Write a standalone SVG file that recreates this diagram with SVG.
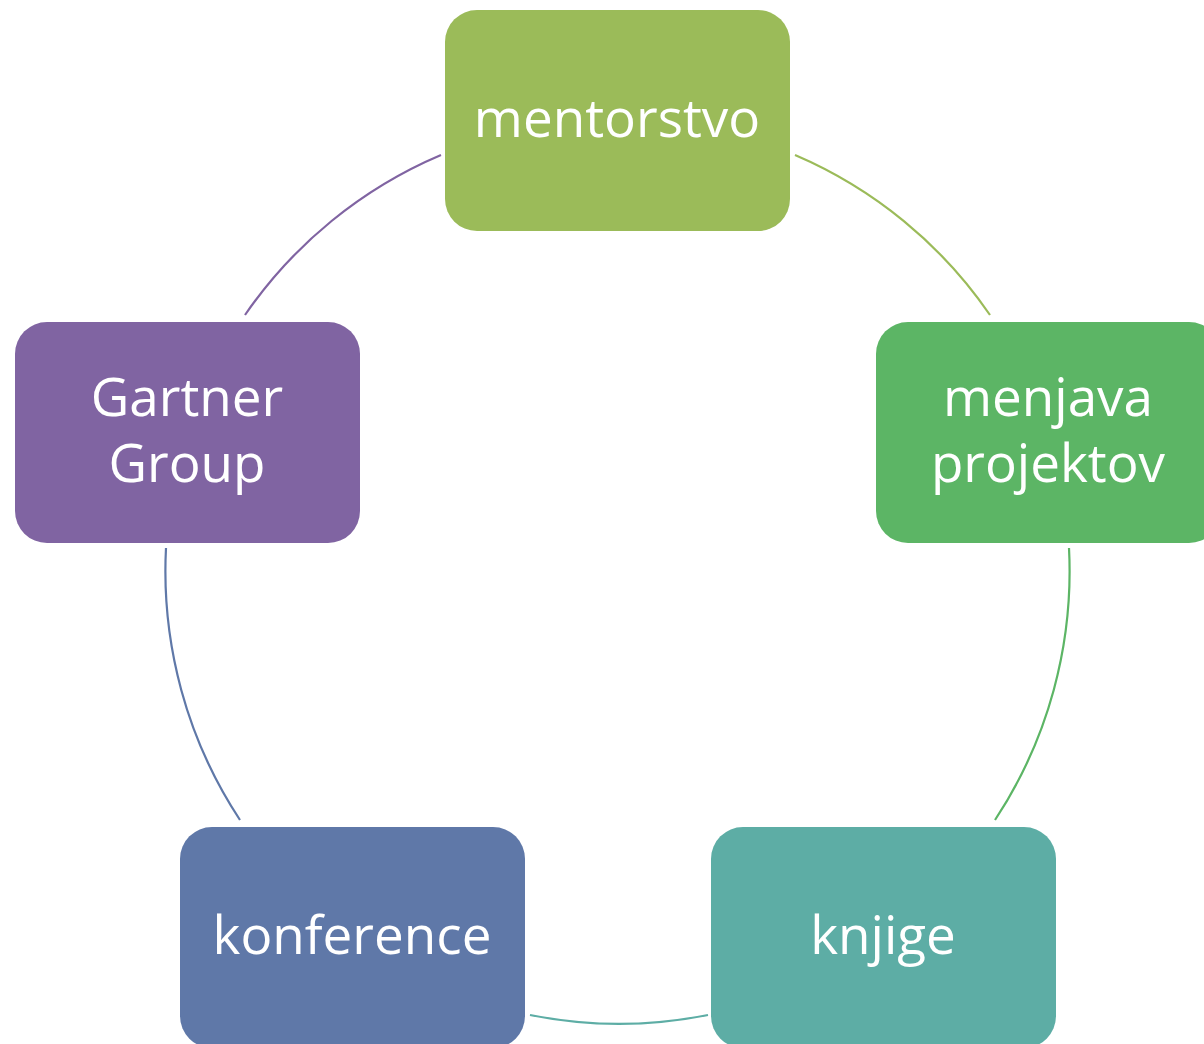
<svg xmlns="http://www.w3.org/2000/svg" width="1204" height="1044" viewBox="0 0 1204 1044">
<style>
.box{stroke:none}
.lbl{font-family:"Open Sans","Noto Sans","Liberation Sans",sans-serif;font-size:53px;fill:#ffffff;text-anchor:middle}
.arc{fill:none;stroke-width:2.2}
</style>
<rect x="0" y="0" width="1204" height="1044" fill="#ffffff"/>
<g id="connectors">
<path class="arc" stroke="#9BBB59" d="M795,155 A452,452 0 0 1 990,315"/>
<path class="arc" stroke="#5CB565" d="M1069,548 A452,452 0 0 1 995,820"/>
<path class="arc" stroke="#5DADA5" d="M708,1015 A452,452 0 0 1 530,1015"/>
<path class="arc" stroke="#5F78A8" d="M240,820 A452,452 0 0 1 166,548"/>
<path class="arc" stroke="#8064A2" d="M245,315 A452,452 0 0 1 441,155"/>
</g>
<g id="node-mentorstvo">
<rect class="box" x="445" y="10" width="345" height="221" rx="32" fill="#9BBB59"/>
<text class="lbl" x="617" y="137">mentorstvo</text>
</g>
<g id="node-menjava">
<rect class="box" x="876" y="322" width="345" height="221" rx="32" fill="#5CB565"/>
<text class="lbl" x="1048" y="416">menjava</text>
<text class="lbl" x="1048" y="482">projektov</text>
</g>
<g id="node-knjige">
<rect class="box" x="711" y="827" width="345" height="221" rx="32" fill="#5DADA5"/>
<text class="lbl" x="883" y="954">knjige</text>
</g>
<g id="node-konference">
<rect class="box" x="180" y="827" width="345" height="221" rx="32" fill="#5F78A8"/>
<text class="lbl" x="352" y="954">konference</text>
</g>
<g id="node-gartner">
<rect class="box" x="15" y="322" width="345" height="221" rx="32" fill="#8064A2"/>
<text class="lbl" x="187" y="416">Gartner</text>
<text class="lbl" x="187" y="482">Group</text>
</g>
</svg>
